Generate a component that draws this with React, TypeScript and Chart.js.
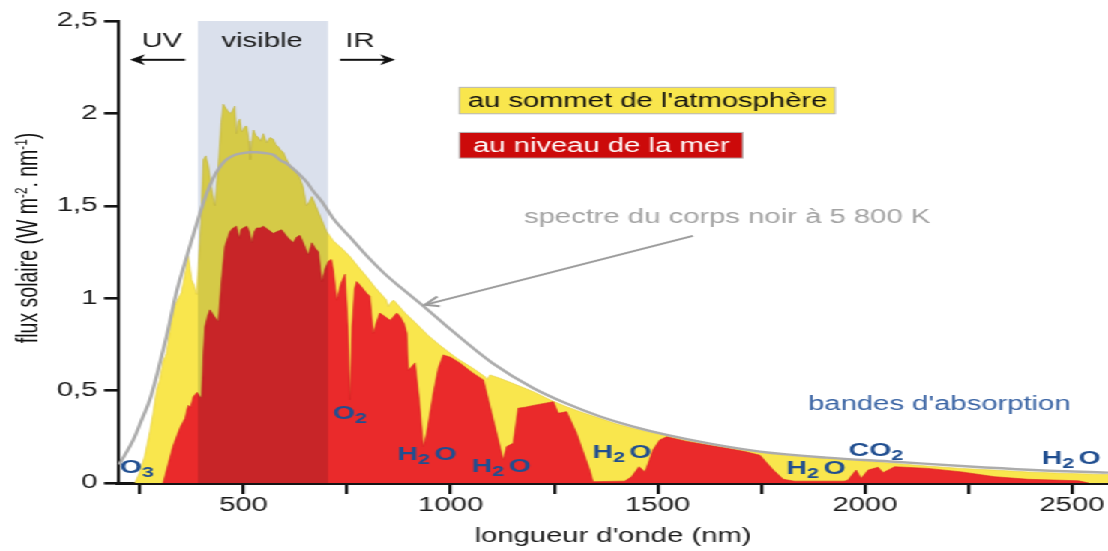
import React, { useEffect, useRef } from "react";
import { Chart, registerables } from "chart.js";

Chart.register(...registerables);

// ---------- data ----------
const topWavelengths = [
  238, 250, 262, 274, 282, 290, 298, 306, 314, 322, 330, 338, 350, 358, 367, 375, 381, 387, 393, 397,
  403, 409, 415, 424, 431, 439, 446, 451, 463, 470, 479, 483, 488, 491, 496, 499, 504, 508, 513, 516,
  520, 524, 530, 536, 542, 548, 556, 564, 572, 578, 584, 590, 596, 604, 615, 628, 636, 644, 652, 658,
  665, 680, 701, 717, 737, 757, 777, 797, 817, 837, 845, 849, 855, 862, 890, 918, 945, 974, 1015, 1055,
  1083, 1088, 1095, 1119, 1160, 1200, 1240, 1280, 1320, 1361, 1400, 1440, 1480, 1522, 1570, 1626, 1690, 1747, 1830, 1908,
  1991, 2072, 2150, 2233, 2313, 2394, 2475, 2555, 2587,
];
const topFlux = [
  0, 0.06, 0.15, 0.28, 0.38, 0.5, 0.56, 0.66, 0.7, 0.82, 0.94, 0.98, 1.03, 1.12, 1.23, 1.1, 1.07, 1.02, 1.25, 1.4,
  1.75, 1.77, 1.72, 1.58, 1.5, 1.71, 1.95, 2.05, 2.01, 2.0, 2.04, 1.89, 1.96, 1.97, 1.9, 1.91, 1.93, 1.93, 1.85, 1.75,
  1.85, 1.91, 1.88, 1.87, 1.85, 1.89, 1.84, 1.87, 1.86, 1.83, 1.82, 1.8, 1.79, 1.75, 1.71, 1.68, 1.65, 1.6, 1.5, 1.52,
  1.55, 1.47, 1.36, 1.31, 1.27, 1.225, 1.17, 1.117, 1.06, 1.01, 0.99, 0.955, 0.975, 0.99, 0.92, 0.86, 0.8, 0.745, 0.675, 0.62,
  0.575, 0.56, 0.585, 0.567, 0.53, 0.494, 0.45, 0.413, 0.38, 0.35, 0.32, 0.296, 0.275, 0.255, 0.23, 0.206, 0.183, 0.164, 0.145, 0.133,
  0.12, 0.106, 0.092, 0.079, 0.07, 0.06, 0.053, 0.048, 0.046,
];

const seaWavelengths = [
  306, 318, 330, 347, 359, 364, 367, 372, 379, 388, 395, 399, 403, 407, 413, 419, 430, 439, 447, 455,
  467, 475, 483, 490, 494, 499, 508, 514, 520, 526, 532, 540, 548, 560, 572, 580, 592, 606, 620, 628,
  636, 646, 656, 665, 673, 681, 689, 697, 705, 712, 717, 725, 735, 745, 752, 757, 762, 768, 773, 785,
  797, 805, 813, 821, 829, 842, 854, 870, 878, 888, 894, 898, 906, 914, 924, 934, 942, 958, 970, 982,
  1000, 1023, 1050, 1079, 1091, 1111, 1127, 1135, 1151, 1163, 1180, 1200, 1248, 1260, 1280, 1304, 1320, 1336, 1344, 1420,
  1437, 1455, 1469, 1477, 1489, 1505, 1522, 1570, 1620, 1666, 1710, 1747, 1763, 1779, 1803, 1830, 1950, 1959, 1979, 1991,
  2008, 2032, 2044, 2072, 2152, 2233, 2313, 2394, 2515, 2540,
];
const seaFlux = [
  0, 0.1, 0.2, 0.3, 0.35, 0.4, 0.42, 0.41, 0.467, 0.49, 0.467, 0.46, 0.7, 0.846, 0.9, 0.937, 0.9, 0.873, 1.1, 1.28,
  1.36, 1.38, 1.39, 1.325, 1.37, 1.38, 1.39, 1.36, 1.3, 1.36, 1.38, 1.38, 1.39, 1.37, 1.35, 1.36, 1.37, 1.33, 1.3, 1.33,
  1.34, 1.29, 1.234, 1.3, 1.27, 1.25, 1.09, 1.16, 1.2, 1.21, 1.15, 0.99, 1.08, 1.13, 0.85, 0.45, 0.85, 1.05, 1.09, 1.06,
  1.027, 1.01, 0.81, 0.87, 0.92, 0.9, 0.88, 0.92, 0.9, 0.86, 0.81, 0.61, 0.63, 0.65, 0.45, 0.196, 0.27, 0.486, 0.62, 0.693,
  0.68, 0.648, 0.6, 0.558, 0.45, 0.27, 0.125, 0.197, 0.215, 0.405, 0.41, 0.42, 0.44, 0.377, 0.386, 0.27, 0.17, 0.07, 0.007, 0.01,
  0.034, 0.088, 0.06, 0.106, 0.18, 0.233, 0.25, 0.225, 0.205, 0.188, 0.17, 0.15, 0.11, 0.07, 0.02, 0.01, 0.01, 0.015, 0.07, 0.025,
  0.07, 0.085, 0.056, 0.088, 0.079, 0.06, 0.034, 0.02, 0.012, 0,
];

const bodyWavelengths = [
  200, 234, 254, 274, 294, 314, 338, 363, 380, 395, 410, 427, 443, 459, 479, 499, 516, 532, 552, 572,
  590, 604, 620, 636, 652, 668, 690, 717, 757, 797, 837, 878, 938, 1000, 1100, 1200, 1280, 1361, 1441, 1522,
  1626, 1747, 1908, 2072, 2233, 2394, 2587,
];
const bodyFlux = [
  0.1, 0.233, 0.34, 0.45, 0.61, 0.79, 1.03, 1.225, 1.35, 1.46, 1.56, 1.65, 1.71, 1.75, 1.775, 1.785, 1.79, 1.79, 1.785, 1.776,
  1.745, 1.73, 1.7, 1.667, 1.63, 1.58, 1.52, 1.43, 1.33, 1.23, 1.14, 1.06, 0.95, 0.83, 0.65, 0.513, 0.43, 0.36, 0.305, 0.26,
  0.213, 0.17, 0.137, 0.115, 0.092, 0.072, 0.056,
];

const xTickValues = [250, 500, 750, 1000, 1250, 1500, 1750, 2000, 2250, 2500];
const xLabelValues = [500, 1000, 1500, 2000, 2500];
const visibleRange = [390, 704];

// ---------- layout ----------
const FINAL_W = 1108;
const CANVAS_W = 739;
const CANVAS_H = 551;
const S = FINAL_W / CANVAS_W; // horizontal stretch of the reference
const X_MIN = 197;
const X_MAX = 2587;
const Y_MAX = 2.5;
const FONT = '"Liberation Sans", Arial, Helvetica, sans-serif';

type Part = { t: string; sub?: boolean; sup?: boolean; gap?: number };

function drawParts(
  ctx: CanvasRenderingContext2D,
  parts: Part[],
  x: number,
  baseline: number,
  size: number,
  weight: string,
  color: string,
  align: "left" | "center",
  smallRatio = 0.75
) {
  const main = `${weight} ${size}px ${FONT}`;
  const small = `${weight} ${size * smallRatio}px ${FONT}`;
  ctx.save();
  ctx.fillStyle = color;
  ctx.textBaseline = "alphabetic";
  ctx.textAlign = "left";
  const widths = parts.map((p) => {
    ctx.font = p.sub || p.sup ? small : main;
    return ctx.measureText(p.t).width + (p.gap || 0);
  });
  const total = widths.reduce((a, b) => a + b, 0);
  let cx = align === "center" ? x - total / 2 : x;
  parts.forEach((p, i) => {
    ctx.font = p.sub || p.sup ? small : main;
    const dy = p.sub ? size * 0.24 : p.sup ? -size * 0.4 : 0;
    ctx.fillText(p.t, cx + (p.gap || 0), baseline + dy);
    cx += widths[i];
  });
  ctx.restore();
}

function drawArrow(
  ctx: CanvasRenderingContext2D,
  x1: number,
  y1: number,
  x2: number,
  y2: number,
  color: string,
  lw: number,
  headLen: number,
  headW: number,
  filled: boolean
) {
  // geometry computed in final (stretched) space, drawn in canvas space
  const X1 = x1 * S;
  const X2 = x2 * S;
  const ang = Math.atan2(y2 - y1, X2 - X1);
  const cos = Math.cos(ang);
  const sin = Math.sin(ang);
  const bx = X2 - headLen * cos;
  const by = y2 - headLen * sin;
  const p1x = bx + headW * sin;
  const p1y = by - headW * cos;
  const p2x = bx - headW * sin;
  const p2y = by + headW * cos;
  ctx.save();
  ctx.strokeStyle = color;
  ctx.fillStyle = color;
  ctx.lineWidth = lw;
  ctx.lineCap = "butt";
  ctx.beginPath();
  ctx.moveTo(x1, y1);
  if (filled) ctx.lineTo((X2 - headLen * 0.6 * cos) / S, y2 - headLen * 0.6 * sin);
  else ctx.lineTo(x2, y2);
  ctx.stroke();
  if (filled) {
    const nx = X2 - headLen * 0.7 * cos;
    const ny = y2 - headLen * 0.7 * sin;
    ctx.beginPath();
    ctx.moveTo(x2, y2);
    ctx.lineTo(p1x / S, p1y);
    ctx.lineTo(nx / S, ny);
    ctx.lineTo(p2x / S, p2y);
    ctx.closePath();
    ctx.fill();
  } else {
    ctx.beginPath();
    ctx.moveTo(p1x / S, p1y);
    ctx.lineTo(x2, y2);
    ctx.lineTo(p2x / S, p2y);
    ctx.stroke();
  }
  ctx.restore();
}

const molecules: { parts: Part[]; nm: number; v: number }[] = [
  { parts: [{ t: "O" }, { t: "3", sub: true }], nm: 243, v: 0.092 },
  { parts: [{ t: "O" }, { t: "2", sub: true }], nm: 757, v: 0.384 },
  { parts: [{ t: "H" }, { t: "2", sub: true }, { t: "O", gap: 3 }], nm: 943, v: 0.162 },
  { parts: [{ t: "H" }, { t: "2", sub: true }, { t: "O", gap: 3 }], nm: 1122, v: 0.097 },
  { parts: [{ t: "H" }, { t: "2", sub: true }, { t: "O", gap: 3 }], nm: 1414, v: 0.173 },
  { parts: [{ t: "H" }, { t: "2", sub: true }, { t: "O", gap: 3 }], nm: 1882, v: 0.087 },
  { parts: [{ t: "CO" }, { t: "2", sub: true }], nm: 2027, v: 0.184 },
  { parts: [{ t: "H" }, { t: "2", sub: true }, { t: "O", gap: 3 }], nm: 2498, v: 0.141 },
];

const decorPlugin = {
  id: "decor",
  afterDatasetDraw(chart: any, args: any) {
    if (args.index !== 1) return;
    const { ctx, scales } = chart;
    const x1 = scales.x.getPixelForValue(visibleRange[0]);
    const x2 = scales.x.getPixelForValue(visibleRange[1]);
    const yTop = scales.y.getPixelForValue(Y_MAX);
    const yBot = scales.y.getPixelForValue(0);
    ctx.save();
    ctx.globalCompositeOperation = "multiply";
    ctx.fillStyle = "rgb(218,224,236)";
    ctx.fillRect(x1, yTop, x2 - x1, yBot - yTop);
    ctx.restore();
  },
  afterDraw(chart: any) {
    const { ctx, scales } = chart;
    const X = (nm: number) => scales.x.getPixelForValue(nm);
    const Y = (v: number) => scales.y.getPixelForValue(v);
    const size = 19.5;
    const capHalf = size * 0.36;

    // UV / visible / IR
    drawParts(ctx, [{ t: "UV" }], X(303), Y(2.4) + capHalf, size, "normal", "#1a1a1a", "center");
    drawParts(ctx, [{ t: "visible" }], X(545), Y(2.4) + capHalf, size, "normal", "#1a1a1a", "center");
    drawParts(ctx, [{ t: "IR" }], X(781), Y(2.4) + capHalf, size, "normal", "#1a1a1a", "center");
    drawArrow(ctx, X(359), Y(2.29), X(226), Y(2.29), "#111", 2, 15, 5.5, true);
    drawArrow(ctx, X(733), Y(2.29), X(866), Y(2.29), "#111", 2, 15, 5.5, true);

    // legend boxes
    const box = (n1: number, n2: number, v1: number, v2: number, fill: string) => {
      ctx.save();
      ctx.fillStyle = fill;
      ctx.strokeStyle = "#b5b5b5";
      ctx.lineWidth = 1;
      const bx = X(n1);
      const by = Y(v2);
      const bw = X(n2) - bx;
      const bh = Y(v1) - by;
      ctx.fillRect(bx, by, bw, bh);
      ctx.strokeRect(bx, by, bw, bh);
      ctx.restore();
    };
    box(1021, 1928, 1.998, 2.141, "#F9E64D");
    drawParts(ctx, [{ t: "au sommet de l'atmosphère" }], X(1041), Y(2.07) + capHalf, size, "normal", "#111", "left");
    box(1021, 1705, 1.758, 1.897, "#CC0A0A");
    drawParts(ctx, [{ t: "au niveau de la mer" }], X(1054), Y(1.828) + capHalf, size, "normal", "#ffffff", "left");

    // black body note
    drawParts(ctx, [{ t: "spectre du corps noir à 5 800 K" }], X(1177), Y(1.446) + capHalf, size, "normal", "#a3a3a3", "left");
    drawArrow(ctx, X(1585), Y(1.337), X(938), Y(0.964), "#9c9c9c", 2, 14, 5, false);

    // absorption bands
    drawParts(ctx, [{ t: "bandes d'absorption" }], X(1863), Y(0.433) + capHalf, size, "normal", "#3a64a4", "left");
    molecules.forEach((m) =>
      drawParts(ctx, m.parts, X(m.nm), Y(m.v) + 19 * 0.36, 19, "bold", "#204e90", "center")
    );

    // y axis title (rotated)
    ctx.save();
    ctx.translate(27.5 / S, 238);
    ctx.rotate(-Math.PI / 2);
    drawParts(
      ctx,
      [{ t: "flux solaire (W m" }, { t: "-2", sup: true }, { t: ". nm" }, { t: "-1", sup: true }, { t: ")" }],
      0,
      capHalf,
      size,
      "normal",
      "#111",
      "center",
      0.6
    );
    ctx.restore();
  },
};

function toPoints(xs: number[], ys: number[]) {
  return xs.map((x, i) => ({ x, y: ys[i] }));
}

export default function App() {
  const canvasRef = useRef<HTMLCanvasElement | null>(null);

  useEffect(() => {
    if (!canvasRef.current) return;
    const chart = new Chart(canvasRef.current, {
      type: "line",
      data: {
        datasets: [
          {
            label: "spectre du corps noir à 5 800 K",
            data: toPoints(bodyWavelengths, bodyFlux),
            borderColor: "#acacac",
            borderWidth: 2.4,
            fill: false,
            pointRadius: 0,
            cubicInterpolationMode: "monotone",
          },
          {
            label: "au niveau de la mer",
            data: toPoints(seaWavelengths, seaFlux),
            borderColor: "#d82227",
            backgroundColor: "#EA2A2B",
            borderWidth: 0.6,
            fill: "origin",
            pointRadius: 0,
            tension: 0,
          },
          {
            label: "au sommet de l'atmosphère",
            data: toPoints(topWavelengths, topFlux),
            borderColor: "#e2cc40",
            backgroundColor: "#F9E64D",
            borderWidth: 0.6,
            fill: "origin",
            pointRadius: 0,
            tension: 0,
          },
        ],
      },
      options: {
        animation: false,
        responsive: false,
        devicePixelRatio: 1,
        events: [],
        layout: { padding: { top: 21, right: 0, bottom: 0, left: 0 } },
        plugins: {
          legend: { display: false },
          tooltip: { enabled: false },
        },
        scales: {
          x: {
            type: "linear",
            min: X_MIN,
            max: X_MAX,
            z: 1,
            afterFit: (scale: any) => {
              scale.height = CANVAS_H - 483;
            },
            afterBuildTicks: (scale: any) => {
              scale.ticks = xTickValues.map((value) => ({ value }));
            },
            ticks: {
              autoSkip: false,
              maxRotation: 0,
              padding: 0,
              color: "#1a1a1a",
              font: { family: FONT, size: 19.5 },
              callback: (value: any) => (xLabelValues.includes(Number(value)) ? String(value) : ""),
            },
            grid: {
              display: true,
              drawOnChartArea: false,
              drawTicks: true,
              tickLength: 11,
              lineWidth: 2.2,
              color: "#141414",
            },
            border: { display: true, color: "#141414", width: 3 },
            title: {
              display: true,
              text: "longueur d'onde (nm)",
              color: "#1a1a1a",
              font: { family: FONT, size: 19.5 },
              padding: { top: 0, bottom: 3 },
            },
          },
          y: {
            type: "linear",
            min: 0,
            max: Y_MAX,
            z: 1,
            afterFit: (scale: any) => {
              scale.width = 118 / S;
            },
            ticks: {
              stepSize: 0.5,
              padding: 4.4,
              color: "#1a1a1a",
              font: { family: FONT, size: 19.5 },
              callback: (value: any) => String(value).replace(".", ","),
            },
            grid: {
              display: true,
              drawOnChartArea: false,
              drawTicks: true,
              tickLength: 9.3,
              lineWidth: 2.6,
              color: "#141414",
            },
            border: { display: true, color: "#141414", width: 2.1 },
          },
        },
      },
      plugins: [decorPlugin],
    } as any);
    return () => chart.destroy();
  }, []);

  return (
    <div
      style={{
        position: "fixed",
        left: 0,
        top: 0,
        width: CANVAS_W,
        height: CANVAS_H,
        transform: `scaleX(${S})`,
        transformOrigin: "0 0",
        background: "#ffffff",
      }}
    >
      <canvas
        ref={canvasRef}
        width={CANVAS_W}
        height={CANVAS_H}
        style={{ width: CANVAS_W, height: CANVAS_H, display: "block" }}
      />
    </div>
  );
}
